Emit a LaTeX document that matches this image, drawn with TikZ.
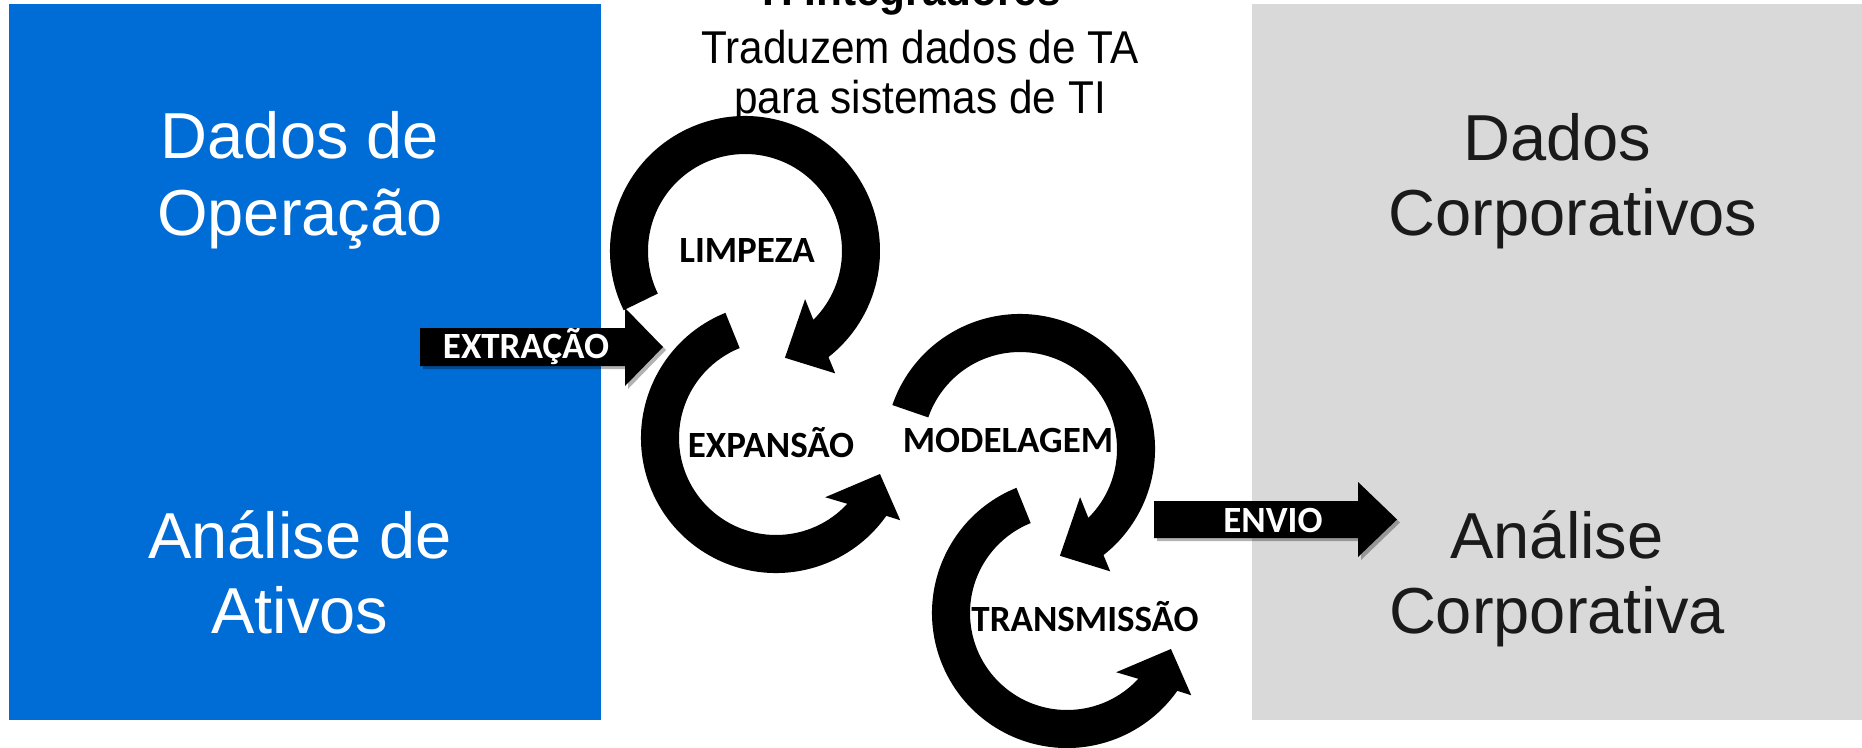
\documentclass[tikz,border=0pt]{standalone}
\usepackage{fontspec}
\setmainfont{Liberation Sans}
\newfontfamily\calfont{Carlito}
\usetikzlibrary{shadows}
\definecolor{opblue}{RGB}{0,108,214}
\definecolor{corpgray}{RGB}{217,217,217}
\definecolor{corptext}{RGB}{26,26,26}
\begin{document}
\begin{tikzpicture}[x=1pt,y=-1pt,
  bigtext/.style={font=\fontsize{65}{78}\selectfont, anchor=base, inner sep=0pt},
  toptext/.style={font=\fontsize{46}{55}\selectfont, anchor=base, inner sep=0pt},
  steplabel/.style={font=\calfont\bfseries\fontsize{37}{42}\selectfont, inner sep=0pt},
  arrowlabel/.style={font=\calfont\bfseries\fontsize{37}{42}\selectfont, text=white, inner sep=0pt},
  ring/.style={fill=black},
  blockarrow/.style={fill=black, drop shadow={shadow xshift=3pt, shadow yshift=-3pt, opacity=0.3, fill=black}}]
\useasboundingbox (0,0) rectangle (1862,747);
\fill[white] (0,0) rectangle (1862,747);
% panels
\fill[opblue] (9,4) rectangle (601,720);
\fill[corpgray] (1252,4) rectangle (1862,720);
% panel texts
\node[bigtext, text=white] (op1) at (300,158) {Dados de};
\node[bigtext, text=white] (op2) at (300,235) {Operação};
\node[bigtext, text=white] (at1) at (300,558) {Análise de};
\node[bigtext, text=white] (at2) at (300,633) {Ativos};
\node[bigtext, text=corptext] (co1) at (1557,160) {Dados};
\node[bigtext, text=corptext] (co2) at (1573,235) {Corporativos};
\node[bigtext, text=corptext] (ac1) at (1557,558) {Análise};
\node[bigtext, text=corptext] (ac2) at (1557,633) {Corporativa};
% top texts
\node[toptext] (title) at (908,5) {\scalebox{0.92}[1]{\bfseries TI Integradores}};
\node[toptext] (sub1) at (920,63) {\scalebox{0.92}[1]{Traduzem dados de TA}};
\node[toptext] (sub2) at (920,113) {\scalebox{0.92}[1]{para sistemas de TI}};
% block arrows
\fill[blockarrow] (420,328) -- (625,328) -- (625,308) -- (663,347) -- (625,386) -- (625,366) -- (420,366) -- cycle;
\node[arrowlabel] (ext) at (526,347) {EXTRAÇÃO};
\fill[blockarrow] (1154,501) -- (1358,501) -- (1358,482) -- (1397,519.5) -- (1358,557) -- (1358,538) -- (1154,538) -- cycle;
\node[arrowlabel] (env) at (1273,520) {ENVIO};
% circular arrows
\begin{scope}[shift={(745,251)}]
\fill[ring] (154:135) arc[start angle=154, end angle=411.8, radius=135] -- (53.6:152) -- (69.5:114) -- (38.7:77) -- (45.2:97) arc[start angle=405.2, end angle=154, radius=97] -- cycle;
\end{scope}
\begin{scope}[shift={(1020,449)}]
\fill[ring] (199:135) arc[start angle=199, end angle=411.8, radius=135] -- (53.6:152) -- (69.5:114) -- (38.7:77) -- (45.2:97) arc[start angle=405.2, end angle=199, radius=97] -- cycle;
\end{scope}
\begin{scope}[shift={(776,438)}]
\fill[ring] (-112:135) arc[start angle=-112, end angle=-324.8, radius=135] -- (33.5:149) -- (19.1:110) -- (50.3:77) -- (42.7:97) arc[start angle=-317.3, end angle=-112, radius=97] -- cycle;
\end{scope}
\begin{scope}[shift={(1067,613)}]
\fill[ring] (-112:135) arc[start angle=-112, end angle=-324.8, radius=135] -- (33.5:149) -- (19.1:110) -- (50.3:77) -- (42.7:97) arc[start angle=-317.3, end angle=-112, radius=97] -- cycle;
\end{scope}
% step labels
\node[steplabel] (limp) at (747,250) {LIMPEZA};
\node[steplabel] (expa) at (771,443) {EXPANSÃO};
\node[steplabel] (mode) at (1008,440) {MODELAGEM};
\node[steplabel] (tran) at (1085,617) {TRANSMISSÃO};
\end{tikzpicture}
\end{document}
